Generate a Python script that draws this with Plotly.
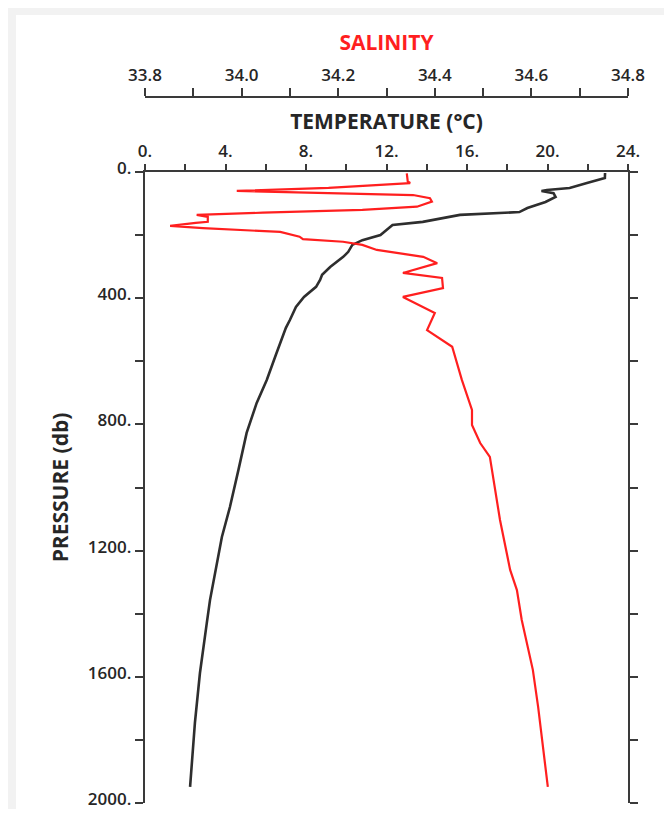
import plotly.graph_objects as go

# ---------------- data ----------------
temp_pressure = [3, 19, 35, 51, 57, 60, 67, 79, 95, 114, 127, 136, 158, 168, 184, 200,
                 216, 231, 253, 269, 301, 326, 342, 364, 396, 428, 469, 494, 580, 659,
                 732, 827, 945, 1062, 1157, 1272, 1357, 1430, 1588, 1746, 1949]
temp_values = [22.86, 22.85, 21.96, 21.1, 19.97, 19.7, 20.3, 20.4, 19.9, 19.0, 18.6, 15.65,
               13.8, 12.3, 12.0, 11.7, 10.8, 10.3, 10.1, 9.85, 9.2, 8.8, 8.7, 8.5, 7.9,
               7.5, 7.2, 7.0, 6.5, 6.05, 5.55, 5.05, 4.64, 4.22, 3.82, 3.48, 3.23, 3.07,
               2.73, 2.48, 2.24]

sal_pressure = [4, 30, 35, 45, 50, 60, 67, 73, 83, 94, 110, 120, 129, 136, 142, 158, 161,
                171, 178, 190, 205, 213, 221, 231, 247, 269, 289, 320, 336, 368, 396, 447,
                501, 554, 659, 754, 802, 859, 903, 1008, 1103, 1261, 1325, 1420, 1578,
                1696, 1949]
sal_values = [34.342, 34.344, 34.349, 34.22, 34.18, 33.99, 34.18, 34.355, 34.39, 34.394,
              34.363, 34.25, 34.044, 33.907, 33.93, 33.93, 33.905, 33.852, 33.92, 34.08,
              34.12, 34.127, 34.21, 34.25, 34.28, 34.376, 34.405, 34.334, 34.415, 34.417,
              34.334, 34.40, 34.384, 34.436, 34.456, 34.477, 34.477, 34.494, 34.514,
              34.525, 34.535, 34.556, 34.570, 34.58, 34.603, 34.614, 34.634]

temp_tickvals = [0, 2, 4, 6, 8, 10, 12, 14, 16, 18, 20, 22, 24]
temp_ticktext = ["0.", "", "4.", "", "8.", "", "12.", "", "16.", "", "20.", "", "24."]
sal_tickvals = [33.8, 33.9, 34.0, 34.1, 34.2, 34.3, 34.4, 34.5, 34.6, 34.7, 34.8]
sal_ticktext = ["33.8", "", "34.0", "", "34.2", "", "34.4", "", "34.6", "", "34.8"]
pres_tickvals = [0, 200, 400, 600, 800, 1000, 1200, 1400, 1600, 1800, 2000]
pres_ticktext = ["0.", "", "400.", "", "800.", "", "1200.", "", "1600.", "", "2000."]

# ---------------- figure ----------------
# page has an 8px body margin, so figure is 16px smaller than the window
W, H = 656, 801
ML, MR, MT, MB = 137, 36, 89, 6
PW, PH = W - ML - MR, H - MT - MB
PLOT_TOP = 164
ytop = (H - MB - PLOT_TOP) / PH

def px(x):
    return (x - ML) / PW

def py(y):
    return (H - MB - y) / PH

FONT = "Open Sans"
AX = "#3a3a3a"
TXT = "#262626"

fig = go.Figure()
fig.add_trace(go.Scatter(x=temp_values, y=temp_pressure, mode="lines",
                         line=dict(color="#2e2e2e", width=2.6), xaxis="x", yaxis="y",
                         showlegend=False, hoverinfo="skip"))
fig.add_trace(go.Scatter(x=sal_values, y=sal_pressure, mode="lines",
                         line=dict(color="#ff1f1f", width=2.2), xaxis="x2", yaxis="y",
                         showlegend=False, hoverinfo="skip"))

tickfont = dict(family=FONT, size=17, color=TXT, weight=600)
titlefont = dict(family=FONT, size=21, color=TXT, weight=700)

fig.update_layout(
    width=W, height=H,
    margin=dict(l=ML, r=MR, t=MT, b=MB, pad=0, autoexpand=False),
    paper_bgcolor="white", plot_bgcolor="rgba(0,0,0,0)",
    xaxis=dict(range=[0, 24], side="top", anchor="y", showgrid=False, zeroline=False,
               showline=True, linecolor=AX, linewidth=2.4, automargin=False,
               tickmode="array", tickvals=temp_tickvals, ticktext=temp_ticktext,
               ticks="outside", ticklen=6, tickwidth=2, tickcolor=AX,
               tickfont=tickfont,
               title=dict(text="TEMPERATURE (°C)", standoff=4, font=titlefont)),
    xaxis2=dict(range=[33.8, 34.8], side="top", overlaying="x", anchor="free", position=1,
                showgrid=False, zeroline=False, automargin=False,
                showline=True, linecolor=AX, linewidth=2.4,
                tickmode="array", tickvals=sal_tickvals, ticktext=sal_ticktext,
                ticks="outside", ticklen=8, tickwidth=2, tickcolor=AX,
                tickfont=tickfont,
                title=dict(text="SALINITY", standoff=6,
                           font=dict(family=FONT, size=21, color="#ff1f1f", weight=700))),
    yaxis=dict(range=[2000, 0], domain=[0, ytop], showgrid=False, zeroline=False,
               showline=True, linecolor=AX, linewidth=2.4, mirror="ticks", automargin=False,
               tickmode="array", tickvals=pres_tickvals, ticktext=pres_ticktext,
               ticks="outside", ticklen=8, tickwidth=2, tickcolor=AX,
               tickfont=tickfont, ticklabeloverflow="allow", ticklabelshift=4,
               title=dict(text="PRESSURE (db)", standoff=14, font=titlefont)),
    shapes=[
        dict(type="rect", xref="paper", yref="paper", layer="below",
             x0=px(-10), x1=px(700), y0=py(-10), y1=py(900),
             fillcolor="#f2f2f2", line=dict(width=0)),
        dict(type="rect", xref="paper", yref="paper", layer="below",
             x0=px(8), x1=px(700), y0=py(7), y1=py(900),
             fillcolor="white", line=dict(width=0)),
    ],
)

fig.write_html("out.html")
